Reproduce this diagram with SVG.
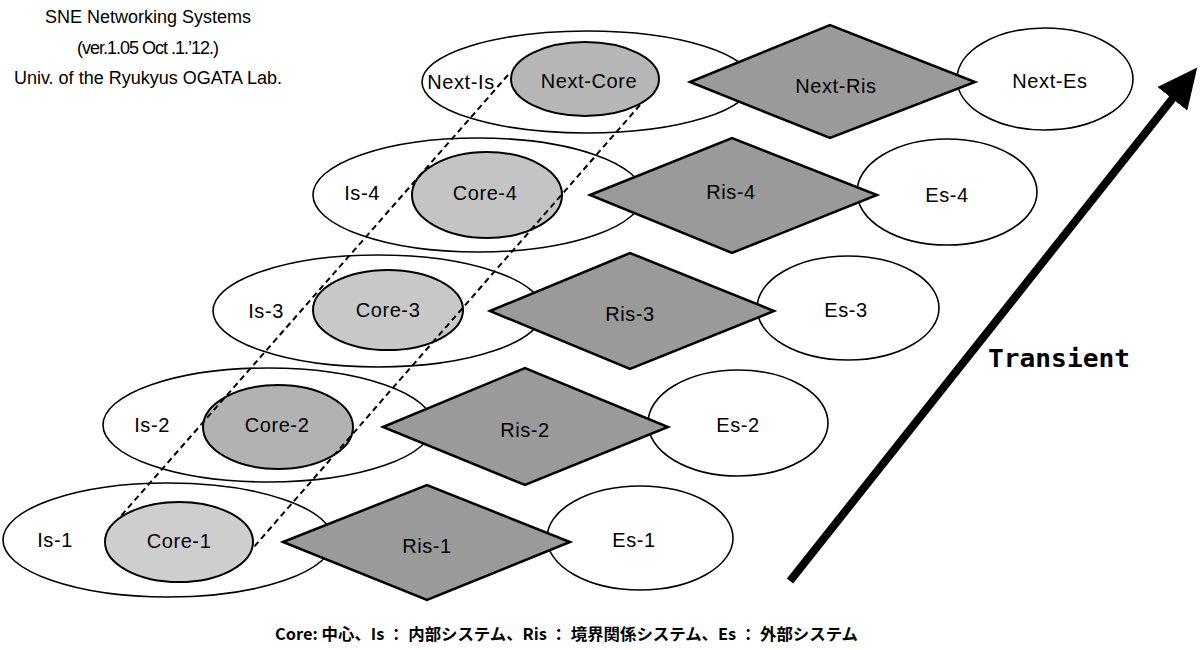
<svg xmlns="http://www.w3.org/2000/svg" width="1201" height="650" viewBox="0 0 1201 650">
<defs>
<style>
.is{fill:#fff;stroke:#000;stroke-width:1.6}
.es{fill:#fff;stroke:#000;stroke-width:1.6}
.core{stroke:#000;stroke-width:2}
.ris{fill:#9a9a9a;stroke:#000;stroke-width:2.5;stroke-linejoin:miter}
.lbl{font-family:"Liberation Sans",Arial,sans-serif;font-size:20px;letter-spacing:0.6px;fill:#000;text-anchor:middle;dominant-baseline:central}
.hdr{font-family:"Liberation Sans",Arial,sans-serif;font-size:18px;fill:#000;text-anchor:middle}
.dash{stroke:#000;stroke-width:2;stroke-dasharray:6 4;fill:none}
</style>
<marker id="ah" markerUnits="userSpaceOnUse" viewBox="0 0 40 38" refX="1" refY="19" markerWidth="40" markerHeight="38" orient="auto">
<path d="M0,0 L40,19 L0,38 z" fill="#000"/>
</marker>
</defs>
<rect width="1201" height="650" fill="#fff"/>

<g id="header">
<text class="hdr" x="148" y="23">SNE Networking Systems</text>
<text class="hdr" x="148" y="54" textLength="142" lengthAdjust="spacing">(ver.1.05 Oct .1.’12.)</text>
<text class="hdr" x="148" y="84">Univ. of the Ryukyus OGATA Lab.</text>
</g>

<!-- Row Next -->
<g id="next-is"><ellipse class="is" cx="587" cy="82" rx="165" ry="51"/><text class="lbl" x="461" y="82">Next-Is</text></g>
<g id="next-core"><ellipse class="core" cx="585" cy="79" rx="74" ry="37" fill="#b6b6b6"/><text class="lbl" x="589" y="81">Next-Core</text></g>
<g id="next-es"><ellipse class="es" cx="1045" cy="79" rx="88" ry="51"/><text class="lbl" x="1050" y="81">Next-Es</text></g>
<g id="next-ris"><polygon class="ris" points="690,82 830,25 975,82 830,138"/><text class="lbl" x="836" y="86">Next-Ris</text></g>

<!-- Row 4 -->
<g id="is-4"><ellipse class="is" cx="478" cy="195" rx="165" ry="57"/><text class="lbl" x="362" y="193">Is-4</text></g>
<g id="core-4"><ellipse class="core" cx="487" cy="195" rx="75" ry="43" fill="#c4c4c4"/><text class="lbl" x="485" y="193">Core-4</text></g>
<g id="es-4"><ellipse class="es" cx="947" cy="192" rx="90" ry="53"/><text class="lbl" x="947" y="195">Es-4</text></g>
<g id="ris-4"><polygon class="ris" points="590,195 732,138 877,195 732,253"/><text class="lbl" x="731" y="192">Ris-4</text></g>

<!-- Row 3 -->
<g id="is-3"><ellipse class="is" cx="378" cy="311" rx="165" ry="56"/><text class="lbl" x="266" y="311">Is-3</text></g>
<g id="core-3"><ellipse class="core" cx="388" cy="310" rx="75" ry="40" fill="#c8c8c8"/><text class="lbl" x="388" y="310">Core-3</text></g>
<g id="es-3"><ellipse class="es" cx="848" cy="308" rx="91" ry="52"/><text class="lbl" x="846" y="310">Es-3</text></g>
<g id="ris-3"><polygon class="ris" points="490,311 630,253 774,311 630,369"/><text class="lbl" x="630" y="314">Ris-3</text></g>

<!-- Row 2 -->
<g id="is-2"><ellipse class="is" cx="268" cy="425" rx="165" ry="57"/><text class="lbl" x="152" y="425">Is-2</text></g>
<g id="core-2"><ellipse class="core" cx="278" cy="427" rx="75" ry="42" fill="#b2b2b2"/><text class="lbl" x="277" y="425">Core-2</text></g>
<g id="es-2"><ellipse class="es" cx="738" cy="423" rx="90" ry="53"/><text class="lbl" x="738" y="425">Es-2</text></g>
<g id="ris-2"><polygon class="ris" points="383,427 525,368 668,427 525,485"/><text class="lbl" x="525" y="430">Ris-2</text></g>

<!-- Row 1 -->
<g id="is-1"><ellipse class="is" cx="168" cy="540" rx="165" ry="57"/><text class="lbl" x="55" y="540">Is-1</text></g>
<g id="core-1"><ellipse class="core" cx="179" cy="542" rx="74" ry="40" fill="#cecece"/><text class="lbl" x="179" y="541">Core-1</text></g>
<g id="es-1"><ellipse class="es" cx="640" cy="538" rx="93" ry="52"/><text class="lbl" x="634" y="540">Es-1</text></g>
<g id="ris-1"><polygon class="ris" points="283,542 427,485 570,542 427,600" fill="#a2a2a2"/><text class="lbl" x="427" y="546">Ris-1</text></g>

<g id="connectors">
<line class="dash" x1="508" y1="75" x2="120" y2="517"/>
<line class="dash" x1="640" y1="105" x2="253" y2="548"/>
<line x1="790" y1="581" x2="1173" y2="98" stroke="#000" stroke-width="8" marker-end="url(#ah)"/>
</g>

<g id="transient">
<text x="988" y="367" font-family="'DejaVu Sans Mono','Liberation Mono',monospace" font-weight="bold" font-size="24" textLength="142" lengthAdjust="spacingAndGlyphs">Transient</text>
</g>

<g id="caption">
<text x="275" y="640" font-family="'Noto Sans CJK JP','Noto Sans',sans-serif" font-weight="bold" font-size="16" textLength="583" lengthAdjust="spacingAndGlyphs">Core: 中心、Is ： 内部システム、Ris ： 境界関係システム、Es ： 外部システム</text>
</g>
</svg>
